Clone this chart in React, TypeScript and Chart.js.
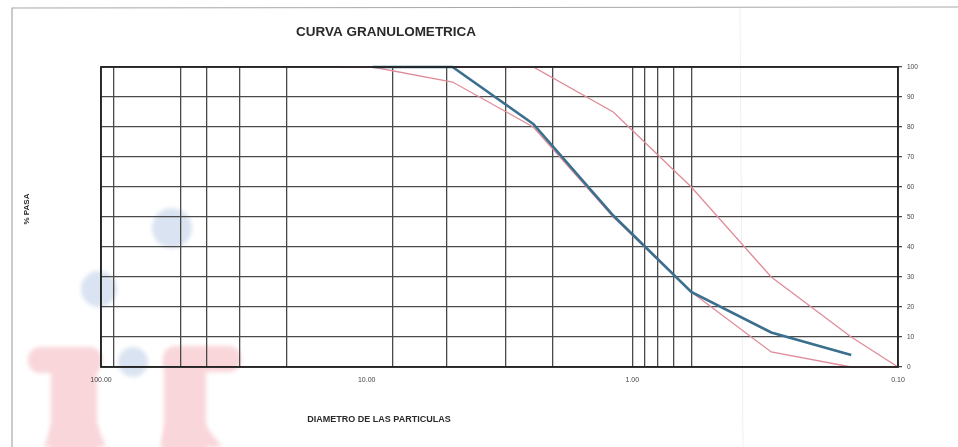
import React, { useEffect, useRef } from "react";
import { Chart, registerables } from "chart.js";

Chart.register(...registerables);

// Sieve openings (mm) and percent passing
const sampleSizes = [9.5, 4.75, 2.36, 1.18, 0.6, 0.3, 0.15];
const samplePassing = [100, 100, 81, 50.5, 25, 11.5, 4];

const lowerSizes = [12.5, 9.5, 4.75, 2.36, 1.18, 0.6, 0.3, 0.15, 0.1];
const lowerPassing = [100, 100, 95, 80, 50, 25, 5, 0, 0];

const upperSizes = [12.5, 9.5, 4.75, 2.36, 1.18, 0.6, 0.3, 0.15, 0.1];
const upperPassing = [100, 100, 100, 100, 85, 60, 30, 10, 0];

// vertical grid lines (mm) and labelled x ticks
const xGridValues = [100, 90, 50, 40, 30, 20, 10, 8, 5, 3, 2, 1, 0.9, 0.8, 0.7, 0.6, 0.1];
const xLabelValues = [100, 10, 1, 0.1];
const xNoGridValues = [10];

const titleText = "CURVA GRANULOMETRICA";
const xTitleText = "DIAMETRO DE LAS PARTICULAS";
const yTitleText = "% PASA";

const FONT = "'Liberation Sans', Arial, sans-serif";

const toPoints = (xs: number[], ys: number[]) => xs.map((x, i) => ({ x, y: ys[i] }));

const decorPlugin = {
  id: "decor",
  beforeDraw(chart: any) {
    const ctx = chart.ctx as CanvasRenderingContext2D;
    ctx.save();
    ctx.fillStyle = "#ffffff";
    ctx.fillRect(0, 0, chart.width, chart.height);

    // faint scan watermark
    ctx.filter = "blur(2px)";
    ctx.fillStyle = "#f9d6da";
    const rr = (x: number, y: number, w: number, h: number, r: number) => {
      ctx.beginPath();
      ctx.roundRect(x, y, w, h, r);
      ctx.fill();
    };
    rr(28, 347, 74, 26, 12);
    rr(51, 360, 46, 90, 4);
    rr(163, 346, 78, 26, 12);
    rr(164, 360, 42, 90, 4);
    ctx.beginPath();
    ctx.moveTo(44, 447);
    ctx.lineTo(52, 425);
    ctx.lineTo(97, 425);
    ctx.lineTo(106, 447);
    ctx.fill();
    ctx.beginPath();
    ctx.moveTo(160, 447);
    ctx.lineTo(166, 425);
    ctx.lineTo(205, 425);
    ctx.lineTo(222, 447);
    ctx.fill();

    ctx.fillStyle = "#dae3f1";
    ctx.beginPath();
    ctx.arc(172, 228, 20, 0, Math.PI * 2);
    ctx.fill();
    ctx.beginPath();
    ctx.arc(99, 289, 18, 0, Math.PI * 2);
    ctx.fill();
    ctx.beginPath();
    ctx.arc(133, 362, 15, 0, Math.PI * 2);
    ctx.fill();
    ctx.filter = "none";

    // outer page frame
    ctx.strokeStyle = "#a8a8a8";
    ctx.lineWidth = 1.2;
    ctx.beginPath();
    ctx.moveTo(12, 447);
    ctx.lineTo(12, 8);
    ctx.lineTo(958, 7);
    ctx.stroke();
    ctx.strokeStyle = "#f0f0f0";
    ctx.lineWidth = 1;
    ctx.beginPath();
    ctx.moveTo(740, 8);
    ctx.lineTo(743, 447);
    ctx.stroke();
    ctx.restore();
  },
  afterDraw(chart: any) {
    const ctx = chart.ctx as CanvasRenderingContext2D;
    const a = chart.chartArea;
    ctx.save();
    ctx.strokeStyle = "#222222";
    ctx.lineWidth = 1.8;
    ctx.strokeRect(a.left, a.top, a.right - a.left, a.bottom - a.top);

    ctx.fillStyle = "#2a2a2a";
    ctx.textAlign = "center";
    ctx.textBaseline = "middle";
    ctx.font = `bold 13.5px ${FONT}`;
    ctx.fillText(titleText, 386, 32);
    ctx.font = `bold 9px ${FONT}`;
    ctx.fillText(xTitleText, 379, 420);
    ctx.translate(27, 209);
    ctx.rotate(-Math.PI / 2);
    ctx.font = `bold 8px ${FONT}`;
    ctx.fillText(yTitleText, 0, 0);
    ctx.restore();
  },
};

export default function App() {
  const ref = useRef<HTMLCanvasElement | null>(null);

  useEffect(() => {
    if (!ref.current) return;
    const chart = new Chart(ref.current, {
      type: "line",
      data: {
        datasets: [
          {
            label: "Muestra",
            data: toPoints(sampleSizes, samplePassing),
            borderColor: "#3b6f8e",
            borderWidth: 2.6,
            pointRadius: 0,
            tension: 0,
            clip: 4,
            order: 0,
          },
          {
            label: "Límite inferior",
            data: toPoints(lowerSizes, lowerPassing),
            borderColor: "#e08c98",
            borderWidth: 1.3,
            pointRadius: 0,
            tension: 0,
            clip: 4,
            order: 1,
          },
          {
            label: "Límite superior",
            data: toPoints(upperSizes, upperPassing),
            borderColor: "#e08c98",
            borderWidth: 1.3,
            pointRadius: 0,
            tension: 0,
            clip: 4,
            order: 2,
          },
        ],
      },
      options: {
        responsive: false,
        animation: false,
        layout: { padding: { left: 101, top: 67, right: 0, bottom: 0 } },
        plugins: {
          legend: { display: false },
          title: { display: false },
          tooltip: { enabled: false },
        },
        scales: {
          x: {
            type: "logarithmic",
            reverse: true,
            min: 0.1,
            max: 100,
            afterBuildTicks: (axis: any) => {
              axis.ticks = xGridValues.map((v) => ({ value: v }));
            },
            afterFit: (axis: any) => {
              axis.height = 80;
            },
            grid: {
              drawTicks: false,
              color: (c: any) =>
                c.tick && xNoGridValues.includes(c.tick.value) ? "rgba(0,0,0,0)" : "#4a4a4a",
              lineWidth: 1.3,
            },
            border: { display: false },
            ticks: {
              autoSkip: false,
              maxRotation: 0,
              padding: 9,
              color: "#444",
              font: { size: 7, family: FONT },
              callback: (v: any) => (xLabelValues.includes(Number(v)) ? Number(v).toFixed(2) : ""),
            },
          },
          y: {
            type: "linear",
            position: "right",
            min: 0,
            max: 100,
            afterFit: (axis: any) => {
              axis.width = 60;
            },
            grid: {
              color: "#4a4a4a",
              lineWidth: 1.3,
              tickLength: 4,
              drawTicks: true,
            },
            border: { display: false },
            ticks: {
              stepSize: 10,
              padding: 5,
              color: "#444",
              font: { size: 6.5, family: FONT },
            },
          },
        },
      },
      plugins: [decorPlugin],
    });
    return () => chart.destroy();
  }, []);

  return (
    <div style={{ position: "fixed", top: 0, left: 0, width: 958, height: 447, background: "#fff" }}>
      <canvas ref={ref} width={958} height={447} style={{ display: "block" }} />
    </div>
  );
}
